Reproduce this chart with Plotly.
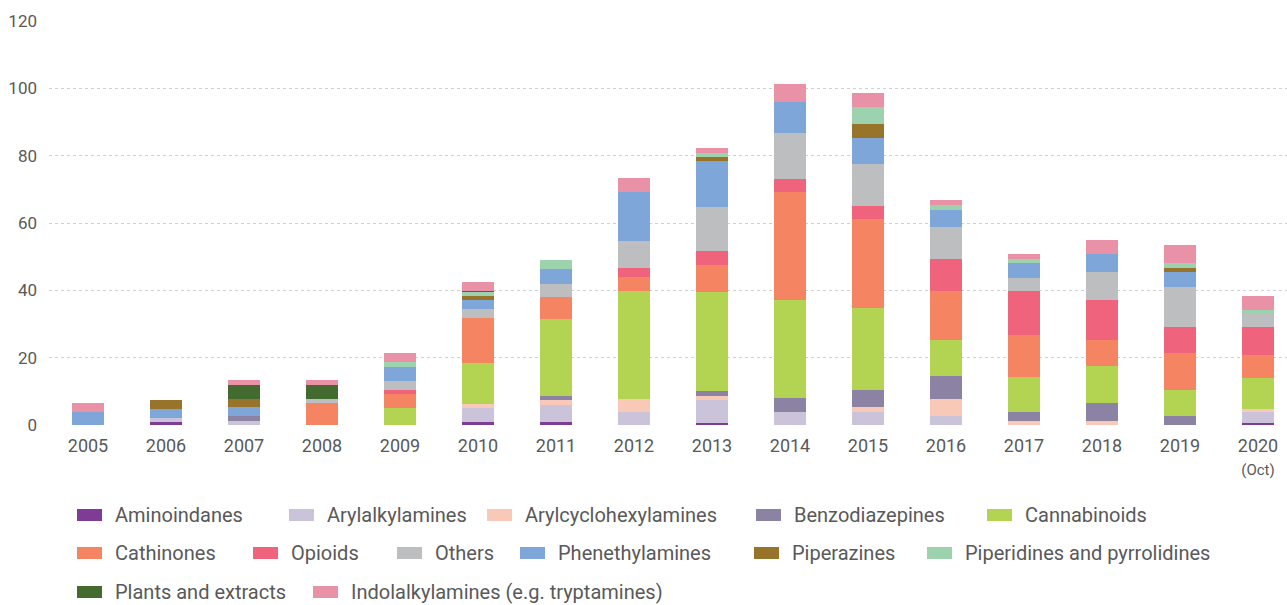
import plotly.graph_objects as go

years = ["2005", "2006", "2007", "2008", "2009", "2010", "2011", "2012",
         "2013", "2014", "2015", "2016", "2017", "2018", "2019", "2020"]
tick_labels = ["2005", "2006", "2007", "2008", "2009", "2010", "2011", "2012",
               "2013", "2014", "2015", "2016", "2017", "2018", "2019",
               "2020<br><span style='font-size:15px'>(Oct)</span>"]

aminoindanes = [0, 0.9, 0, 0, 0, 0.9, 0.9, 0, 0.6, 0, 0, 0, 0, 0, 0, 0.6]
arylalkylamines = [0, 1.2, 1.2, 0, 0, 4.2, 5.1, 3.9, 6.9, 3.9, 3.9, 2.7, 0, 0, 0, 3.3]
arylcyclohexylamines = [0, 0, 0, 0, 0, 1.2, 1.5, 3.9, 1.2, 0, 1.5, 5.1, 1.2, 1.2, 0, 0.9]
benzodiazepines = [0, 0, 1.5, 0, 0, 0, 1.2, 0, 1.5, 4.2, 5.1, 6.9, 2.7, 5.4, 2.7, 0]
cannabinoids = [0, 0, 0, 0, 5.1, 12.0, 22.8, 32.1, 29.4, 29.1, 24.3, 10.5, 10.5, 10.8, 7.8, 9.3]
cathinones = [0, 0, 0, 6.5, 4.2, 13.5, 6.6, 4.2, 7.8, 32.1, 26.4, 14.7, 12.3, 7.8, 10.8, 6.6]
opioids = [0, 0, 0, 0, 1.2, 0, 0, 2.4, 4.2, 3.9, 3.9, 9.3, 13.2, 12.0, 7.8, 8.4]
others = [0, 0, 0, 1.2, 2.7, 2.7, 3.9, 8.1, 13.2, 13.5, 12.3, 9.6, 3.9, 8.1, 12.0, 4.2]
phenethylamines = [3.9, 2.7, 2.7, 0, 3.9, 2.7, 4.2, 14.7, 13.5, 9.3, 7.8, 5.1, 4.2, 5.4, 4.2, 0]
piperazines = [0, 2.7, 2.4, 0, 0, 1.2, 0, 0, 1.2, 0, 4.2, 0, 0, 0, 1.2, 0]
piperidines = [0, 0, 0, 0, 1.5, 1.2, 2.7, 0, 1.2, 0, 5.1, 1.5, 1.2, 0, 1.5, 0.9]
plants = [0, 0, 4.2, 4.2, 0, 0.3, 0, 0, 0, 0, 0, 0, 0, 0, 0, 0]
indolalkylamines = [2.7, 0, 1.5, 1.5, 2.7, 2.7, 0, 4.2, 1.5, 5.4, 4.2, 1.5, 1.5, 4.2, 5.4, 4.2]

series_names = ["Aminoindanes", "Arylalkylamines", "Arylcyclohexylamines",
                "Benzodiazepines", "Cannabinoids", "Cathinones", "Opioids",
                "Others", "Phenethylamines", "Piperazines",
                "Piperidines and pyrrolidines", "Plants and extracts",
                "Indolalkylamines (e.g. tryptamines)"]
series_values = [aminoindanes, arylalkylamines, arylcyclohexylamines,
                 benzodiazepines, cannabinoids, cathinones, opioids, others,
                 phenethylamines, piperazines, piperidines, plants,
                 indolalkylamines]
colors = ["#7e3c97", "#cbc3d9", "#f9c9b8", "#8b82a4", "#b3d453", "#f48462",
          "#f0637d", "#bdbebf", "#7ea6d8", "#98742b", "#9cd3ae", "#436a2f",
          "#e991a6"]

W, H = 1287, 605
L, R, T, B = 49, 0, 21, 180
PW, PH = W - L - R, H - T - B

FONT = "Roboto"
TXT = "#595959"

fig = go.Figure()
x_idx = list(range(len(years)))
for name, vals, col in zip(series_names, series_values, colors):
    fig.add_trace(go.Bar(
        x=x_idx, y=vals, name=name, marker=dict(color=col, line=dict(width=0)),
        width=0.41, showlegend=False,
        hovertemplate=name + " %{customdata}: %{y}<extra></extra>",
        customdata=years,
    ))

# manual legend (swatch + text) placed in pixel positions
legend_pos = [
    (77, 515), (289, 515), (487, 515), (756, 515), (987, 515),
    (77, 553), (253, 553), (397, 553), (520, 553), (754, 553), (927, 553),
    (77, 592), (313, 592),
]

def px_x(p):
    return (p - L) / PW

def px_y(p):
    return (H - B - p) / PH

shapes = []
annotations = []
for name, col, (sx, sy) in zip(series_names, colors, legend_pos):
    shapes.append(dict(type="rect", xref="paper", yref="paper",
                       x0=px_x(sx), x1=px_x(sx + 25),
                       y0=px_y(sy + 6), y1=px_y(sy - 6),
                       fillcolor=col, line=dict(width=0)))
    annotations.append(dict(text=name, xref="paper", yref="paper",
                            x=px_x(sx + 37), y=px_y(sy), xanchor="left",
                            yanchor="middle", showarrow=False, borderpad=0,
                            font=dict(family=FONT, size=20, color=TXT)))

fig.update_layout(
    barmode="stack",
    width=W, height=H,
    margin=dict(l=L, r=R, t=T, b=B, pad=0),
    paper_bgcolor="white", plot_bgcolor="white",
    font=dict(family=FONT, color=TXT),
    shapes=shapes, annotations=annotations,
    bargap=0,
    xaxis=dict(range=[-0.5, (PW / 78.0) - 0.5], tickvals=x_idx,
               ticktext=tick_labels, showgrid=False, zeroline=False,
               showline=False, ticks="", tickfont=dict(size=18, color=TXT),
               ticklabelstandoff=8, fixedrange=True),
    yaxis=dict(range=[0, 120], tickvals=[0, 20, 40, 60, 80, 100, 120],
               showgrid=True, gridcolor="#d0d0d0", griddash="dot",
               gridwidth=1, zeroline=False, showline=False, ticks="",
               ticklabelstandoff=11, tickfont=dict(size=17, color=TXT),
               fixedrange=True),
)

fig.write_html(
    "out.html",
    config={"displayModeBar": False},
    post_script="document.body.style.margin='0';document.body.style.overflow='hidden';",
)
